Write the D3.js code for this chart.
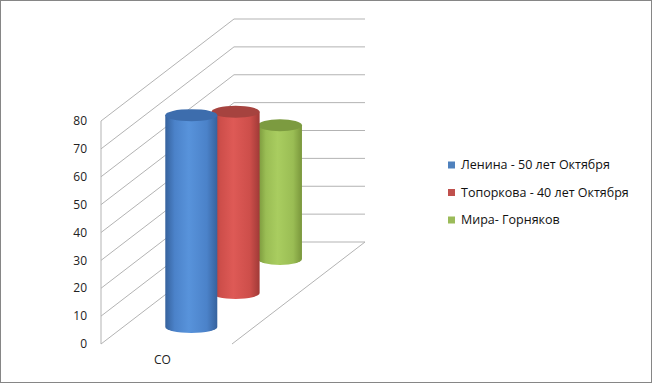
<!DOCTYPE html>
<html>
<head>
<meta charset="utf-8">
<script src="https://cdn.jsdelivr.net/npm/d3@7"></script>
<style>
  body { margin: 0; background: #fff; }
  text { font-family: "Open Sans", "Liberation Sans", sans-serif; }
</style>
</head>
<body>
<div id="chart"></div>
<script>
// data
var categories = ["СО"];
var seriesNames = ["Ленина - 50 лет Октября", "Топоркова - 40 лет Октября", "Мира- Горняков"];
var seriesValues = [76, 65, 48];
var yTicks = [0, 10, 20, 30, 40, 50, 60, 70, 80];

var colors = [
  {dark: "#36629d", mid: "#5893db", light: "#4b82c9", top: "#3d6dad", key: "#4f81bd"},
  {dark: "#a03a37", mid: "#de5a56", light: "#cd4e4a", top: "#a6433f", key: "#c0504d"},
  {dark: "#79963b", mid: "#a9cd60", light: "#9abd54", top: "#7c9b40", key: "#9bbb59"}
];

var width = 653, height = 384;

var svg = d3.select("#chart")
  .append("svg")
  .attr("width", width)
  .attr("height", height);

// outer border
svg.append("rect")
  .attr("x", 0.5).attr("y", 0.5)
  .attr("width", width - 2).attr("height", height - 2)
  .style("fill", "#fff")
  .style("stroke", "#868686");

// front plane scales + depth offset (oblique 3d)
var y = d3.scaleLinear().domain([0, 80]).range([344, 121]);
var x = d3.scaleBand().domain(categories).range([101, 232]);
var z = d3.scaleBand().domain(seriesNames).range([0, 1]);
var depthX = 133, depthY = 102;

function px(sx, zz) { return sx + zz * depthX; }
function py(sy, zz) { return sy - zz * depthY; }

var grid = svg.append("g").style("stroke", "#b3b3b3").style("fill", "none");

// left wall gridlines (diagonal)
grid.selectAll(".diag")
  .data(yTicks).enter()
  .append("line")
  .attr("x1", 101).attr("y1", function(d) { return y(d); })
  .attr("x2", px(101, 1)).attr("y2", function(d) { return py(y(d), 1); });

// back wall gridlines
grid.selectAll(".back")
  .data(yTicks).enter()
  .append("line")
  .attr("x1", px(101, 1)).attr("y1", function(d) { return py(y(d), 1); })
  .attr("x2", px(232, 1)).attr("y2", function(d) { return py(y(d), 1); });

// left wall front edge
grid.append("line")
  .attr("x1", 101).attr("y1", y(80))
  .attr("x2", 101).attr("y2", y(0));

// floor right edge
grid.append("line")
  .attr("x1", 232).attr("y1", y(0))
  .attr("x2", px(232, 1)).attr("y2", py(y(0), 1));

// y labels
svg.selectAll(".ylab")
  .data(yTicks).enter()
  .append("text")
  .attr("x", 87)
  .attr("y", function(d) { return y(d); })
  .attr("dy", "0.35em")
  .style("text-anchor", "end")
  .style("font-size", "12px")
  .style("fill", "#222")
  .text(function(d) { return d; });

// category label
svg.append("text")
  .attr("x", x(categories[0]) + x.bandwidth() / 2 - 4)
  .attr("y", 360)
  .attr("dy", "0.35em")
  .style("text-anchor", "middle")
  .style("font-size", "12px")
  .style("fill", "#222")
  .text(categories[0]);

// gradients
var defs = svg.append("defs");
colors.forEach(function(c, i) {
  var g = defs.append("linearGradient").attr("id", "cyl" + i)
    .attr("x1", "0%").attr("x2", "100%").attr("y1", "0%").attr("y2", "0%");
  g.append("stop").attr("offset", "0%").attr("stop-color", c.dark);
  g.append("stop").attr("offset", "18%").attr("stop-color", c.light);
  g.append("stop").attr("offset", "45%").attr("stop-color", c.mid);
  g.append("stop").attr("offset", "80%").attr("stop-color", c.light);
  g.append("stop").attr("offset", "100%").attr("stop-color", c.dark);
});

// cylinders, back to front
var ry = 6;
var cyl = seriesNames.map(function(name, i) {
  var zz = z(name) + z.bandwidth() / 2;
  return {
    i: i,
    cx: px(x(categories[0]) + x.bandwidth() * 0.52, zz),
    yBase: py(y(0), zz),
    yTop: py(y(seriesValues[i]), zz),
    rx: 27 - 6 * zz
  };
}).reverse();

var cg = svg.selectAll(".cyl")
  .data(cyl).enter()
  .append("g");

cg.append("path")
  .attr("d", function(d) {
    return "M" + (d.cx - d.rx) + "," + d.yTop +
      "L" + (d.cx - d.rx) + "," + d.yBase +
      "A" + d.rx + "," + ry + " 0 0 0 " + (d.cx + d.rx) + "," + d.yBase +
      "L" + (d.cx + d.rx) + "," + d.yTop + "Z";
  })
  .style("fill", function(d) { return "url(#cyl" + d.i + ")"; });

cg.append("ellipse")
  .attr("cx", function(d) { return d.cx; })
  .attr("cy", function(d) { return d.yTop; })
  .attr("rx", function(d) { return d.rx; })
  .attr("ry", ry)
  .style("fill", function(d) { return colors[d.i].top; });

// legend
var legend = svg.selectAll(".legend")
  .data(seriesNames).enter()
  .append("g")
  .attr("transform", function(d, i) { return "translate(448," + (165 + i * 27.5) + ")"; });

legend.append("rect")
  .attr("x", 0).attr("y", -3.5)
  .attr("width", 7).attr("height", 7)
  .style("fill", function(d, i) { return colors[i].key; });

legend.append("text")
  .attr("x", 13)
  .attr("dy", "0.35em")
  .style("font-size", "12.5px")
  .style("fill", "#111")
  .text(function(d) { return d; });
</script>
</body>
</html>
